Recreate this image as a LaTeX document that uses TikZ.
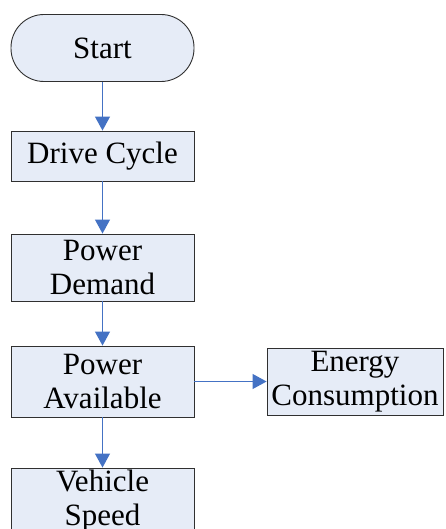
\documentclass[tikz,border=0pt]{standalone}
\usepackage{fontspec}
\setmainfont{Liberation Serif}
\usetikzlibrary{arrows.meta}
\definecolor{boxfill}{HTML}{E6ECF7}
\definecolor{arrowblue}{HTML}{4472C4}
\definecolor{boxline}{HTML}{303030}
\begin{document}
\begin{tikzpicture}[x=1pt,y=-1pt,
  box/.style={draw=boxline,fill=boxfill,line width=0.9pt,inner sep=0pt,align=center,
    font=\fontsize{31}{34}\selectfont,minimum width=183pt},
  flow/.style={draw=arrowblue,line width=1.1pt,-{Triangle[width=15pt,length=14pt]}}]
\useasboundingbox (0,0) rectangle (445,529);
\clip (0,0) rectangle (445,529);
\node[box,rounded corners=33pt,minimum height=67pt] (start) at (102.5,48) {Start};
\node[box,minimum height=50pt] (drive) at (102.5,156) {Drive Cycle};
\node[box,minimum height=67pt] (demand) at (102.5,267.5) {Power\\Demand};
\node[box,minimum height=71pt] (avail) at (102.5,381.5) {Power\\Available};
\node[box,minimum height=67pt,minimum width=176pt] (energy) at (355,381.5) {Energy\\Consumption};
\node[box,minimum height=67pt] (speed) at (102.5,501.5) {Vehicle\\Speed};
\draw[flow] (start) -- (drive);
\draw[flow] (drive) -- (demand);
\draw[flow] (demand) -- (avail);
\draw[flow] (avail) -- (energy);
\draw[flow] (avail) -- (speed);
\end{tikzpicture}
\end{document}
